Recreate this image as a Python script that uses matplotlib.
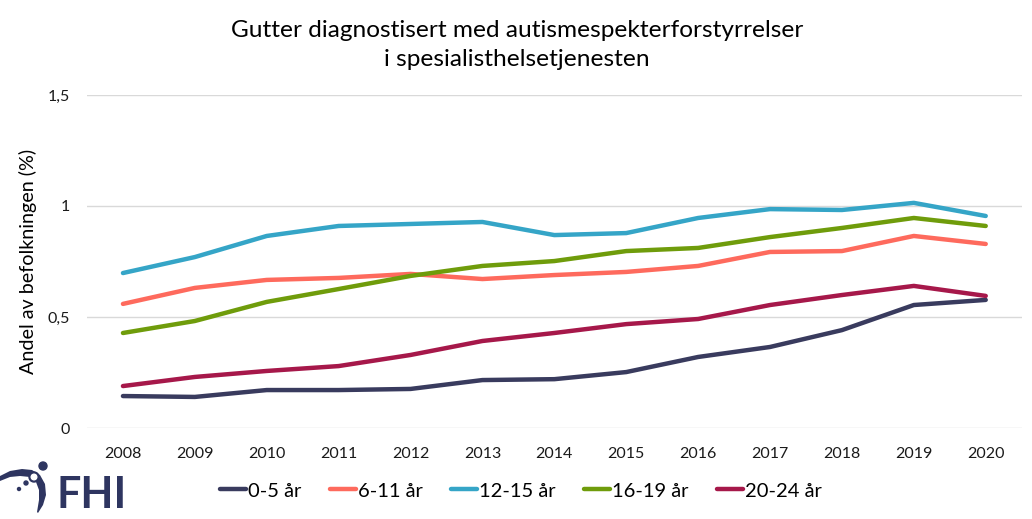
import numpy as np
import matplotlib.pyplot as plt
from matplotlib.patches import Circle, Polygon

plt.rcParams['font.family'] = ['Lato', 'DejaVu Sans']

years = ['2008', '2009', '2010', '2011', '2012', '2013', '2014',
         '2015', '2016', '2017', '2018', '2019', '2020']

age_0_5 = [0.144, 0.140, 0.171, 0.171, 0.176, 0.216, 0.220,
           0.252, 0.320, 0.365, 0.441, 0.554, 0.577]
age_6_11 = [0.559, 0.631, 0.667, 0.676, 0.694, 0.671, 0.689,
            0.703, 0.730, 0.793, 0.797, 0.865, 0.829]
age_12_15 = [0.698, 0.770, 0.865, 0.910, 0.919, 0.928, 0.869,
             0.878, 0.946, 0.986, 0.982, 1.014, 0.955]
age_16_19 = [0.428, 0.482, 0.568, 0.626, 0.685, 0.730, 0.752,
             0.797, 0.811, 0.860, 0.901, 0.946, 0.910]
age_20_24 = [0.189, 0.230, 0.257, 0.279, 0.329, 0.392, 0.428,
             0.468, 0.491, 0.554, 0.599, 0.640, 0.595]

labels = ['0-5 år', '6-11 år', '12-15 år', '16-19 år', '20-24 år']
colors = ['#393b5e', '#fe6a5d', '#35a5c7', '#6f9c0b', '#a6184a']
series = [age_0_5, age_6_11, age_12_15, age_16_19, age_20_24]

fig = plt.figure(figsize=(10.32, 5.19), dpi=100)
ax = fig.add_axes([0.0843, 0.1753, 0.9057, 0.6417])

x = np.arange(len(years))
for vals, lab, col in zip(series, labels, colors):
    ax.plot(x, vals, color=col, lw=3.2, label=lab, solid_capstyle='round')

ax.set_xlim(-0.5, len(years) - 0.5)
ax.set_ylim(0, 1.5)
ax.set_xticks(x)
ax.set_xticklabels(years)
ax.set_yticks([0, 0.5, 1, 1.5])
ax.set_yticklabels(['0', '0,5', '1', '1,5'])
ax.tick_params(length=0, labelsize=11.5, colors='#1a1a1a', pad=14)
ax.tick_params(axis='y', pad=12)
ax.grid(axis='y', color='#d9d9d9', lw=1)
ax.set_axisbelow(True)
for s in ax.spines.values():
    s.set_visible(False)
ax.set_ylabel('Andel av befolkningen (%)', fontsize=14.2)
ax.yaxis.set_label_coords(-0.0535, 0.5)

fig.text(0.501, 0.913, 'Gutter diagnostisert med autismespekterforstyrrelser\ni spesialisthelsetjenesten',
         ha='center', va='center', fontsize=17.6, linespacing=1.45)

fig.legend(loc='center', bbox_to_anchor=(0.505, 0.054), ncol=5, frameon=False,
           fontsize=14.5, handlelength=1.3, handletextpad=0.1, columnspacing=1.4)

# FHI logo
navy = '#2e3560'
fig.text(0.055, 0.046, 'FHI', fontsize=31, fontweight='bold', color=navy,
         ha='left', va='center')
lax = fig.add_axes([0.0, 0.0, 60 / 1032, 64 / 519])
lax.set_xlim(0, 60)
lax.set_ylim(519, 455)
lax.axis('off')
swoosh = [(0, 476), (10, 471), (22, 469), (32, 470), (40, 475), (45, 484),
          (46, 495), (43, 505), (38, 513), (37, 512), (39, 500), (39, 490),
          (36, 482), (30, 477), (20, 476), (10, 477), (0, 481)]
lax.add_patch(Polygon(swoosh, closed=True, color=navy, lw=0))
lax.add_patch(Circle((34, 477), 5, color=navy))
lax.add_patch(Circle((34, 477), 2.8, color='white'))
lax.add_patch(Circle((43, 466), 4, color=navy))
lax.add_patch(Circle((26, 483), 2, color=navy))
lax.add_patch(Circle((19, 489), 1.5, color=navy))

fig.savefig('out.png', dpi=100)
